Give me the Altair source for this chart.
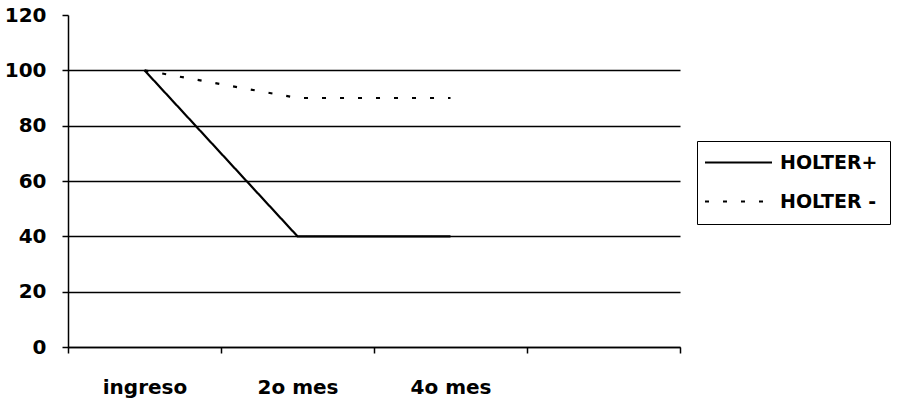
import altair as alt
import pandas as pd

# ---- data ----
categories = ["ingreso", "2o mes", "4o mes", " "]
measured = ["ingreso", "2o mes", "4o mes"]
holter_pos = [100, 40, 40]
holter_neg = [100, 90, 90]
series_names = ["HOLTER+", "HOLTER -"]
y_ticks = [0, 20, 40, 60, 80, 100, 120]

rows = []
for name, vals in zip(series_names, [holter_pos, holter_neg]):
    for c, v in zip(measured, vals):
        rows.append({"mes": c, "valor": v, "serie": name})
df = pd.DataFrame(rows)

FONT = "DejaVu Sans"

chart = (
    alt.Chart(df)
    .mark_line(color="black", strokeWidth=2.2)
    .encode(
        x=alt.X(
            "mes:N",
            sort=categories,
            scale=alt.Scale(domain=categories, paddingInner=0, paddingOuter=0),
            axis=alt.Axis(
                title=None,
                tickBand="extent",
                labelAngle=0,
                grid=False,
                domainColor="black",
                domainWidth=1.5,
                tickColor="black",
                tickWidth=1.5,
                tickSize=6,
                labelFont=FONT,
                labelFontSize=20,
                labelFontWeight="bold",
                labelColor="black",
                labelPadding=24,
            ),
        ),
        y=alt.Y(
            "valor:Q",
            scale=alt.Scale(domain=[0, 120], nice=False, zero=True),
            axis=alt.Axis(
                title=None,
                values=y_ticks,
                grid=True,
                gridColor="black",
                gridWidth=1.5,
                gridOpacity={"condition": {"test": "datum.value >= 120", "value": 0}, "value": 1},
                domainColor="black",
                domainWidth=1.5,
                tickColor="black",
                tickWidth=1.5,
                tickSize=6,
                labelFont=FONT,
                labelFontSize=20,
                labelFontWeight="bold",
                labelColor="black",
                labelPadding=16,
            ),
        ),
        strokeDash=alt.StrokeDash(
            "serie:N",
            scale=alt.Scale(domain=series_names, range=[[1, 0], [4, 14]]),
            legend=alt.Legend(
                title=None,
                orient="none",
                legendX=629,
                legendY=126,
                strokeColor="black",
                fillColor="white",
                padding=12,
                symbolType="M-6.7,0L6.7,0",
                symbolSize=100,
                symbolOffset=20,
                symbolStrokeColor="black",
                symbolStrokeWidth=2,
                labelFont=FONT,
                labelFontSize=19,
                labelFontWeight="bold",
                labelColor="black",
                rowPadding=19,
                labelOffset=32,
            ),
        ),
    )
    .properties(
        width=612,
        height=332,
        padding={"left": 68, "top": 15, "right": 224, "bottom": 55},
        autosize="none",
        background="white",
    )
    .configure_view(stroke=None)
)

chart.save("out.html", embed_options={"renderer": "svg", "actions": False})
